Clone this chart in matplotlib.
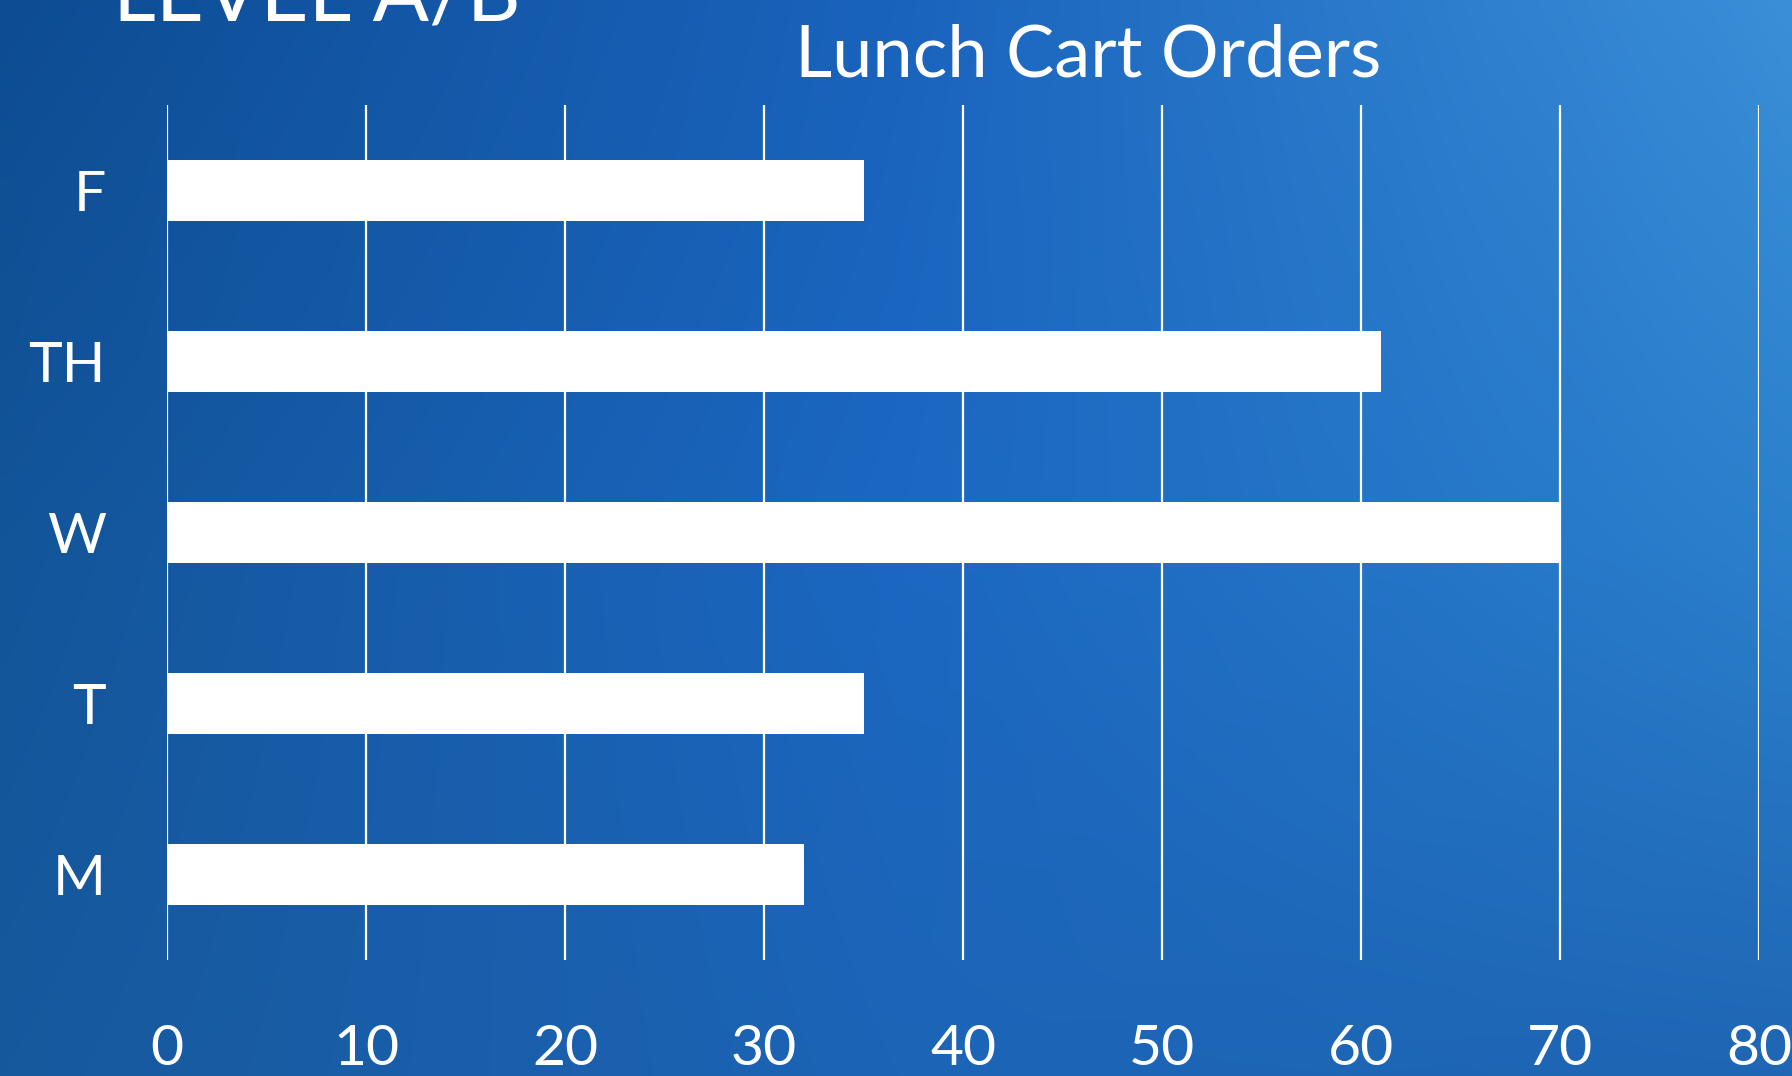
import numpy as np
import matplotlib
matplotlib.use("Agg")
import matplotlib.pyplot as plt
from matplotlib.colors import to_rgb

# Data (bottom to top)
days = ["M", "T", "W", "TH", "F"]
orders = [32, 35, 70, 61, 35]
x_ticks = [0, 10, 20, 30, 40, 50, 60, 70, 80]

W, H = 1792, 1076
fig = plt.figure(figsize=(W / 100, H / 100), dpi=100)

# Blue gradient background from a 3x3 grid of colours (rows top->bottom, cols left->right)
grid_cols = [["#0d4c92", "#1a63bd", "#3a8fd8"],
             ["#135599", "#1b67c2", "#2b80cc"],
             ["#17599d", "#1c64b6", "#1f66b4"]]
ctrl = np.array([[to_rgb(c) for c in row] for row in grid_cols])
nx, ny = 240, 140
xs = np.linspace(0, 2, nx)
ys = np.linspace(0, 2, ny)
rows = np.stack([np.stack([np.interp(xs, [0, 1, 2], ctrl[r, :, k]) for k in range(3)], -1)
                 for r in range(3)])
grad = np.stack([np.stack([np.interp(ys, [0, 1, 2], rows[:, i, k]) for k in range(3)], -1)
                 for i in range(nx)], 1)
bg = fig.add_axes([0, 0, 1, 1], zorder=0)
bg.imshow(np.clip(grad, 0, 1), aspect="auto", extent=[0, 1, 0, 1], interpolation="bicubic")
bg.axis("off")

font = ["Lato", "DejaVu Sans"]

ax = fig.add_axes([0.0932, 0.1078, 0.8884, 0.7946], zorder=1)
ax.patch.set_alpha(0)
ax.barh(range(len(days)), orders, height=0.36, color="white", zorder=3)
ax.set_xlim(0, 80)
ax.set_ylim(-0.5, 4.5)
ax.set_xticks(x_ticks)
ax.set_yticks(range(len(days)))
ax.set_yticklabels(days)
ax.grid(axis="x", color="white", linewidth=1.6, zorder=1)
ax.set_axisbelow(True)
for s in ax.spines.values():
    s.set_visible(False)
ax.tick_params(length=0, colors="white", labelsize=41)
ax.tick_params(axis="x", pad=46)
ax.tick_params(axis="y", pad=44)
for lab in ax.get_xticklabels() + ax.get_yticklabels():
    lab.set_family(font)

fig.text(0.607, 0.948, "Lunch Cart Orders", color="white", fontsize=52,
         ha="center", va="center", family=font)
fig.text(0.063, 1.002, "LEVEL A/B", color="white", fontsize=60,
         ha="left", va="center", family=font)

fig.savefig("out.png", dpi=100)
